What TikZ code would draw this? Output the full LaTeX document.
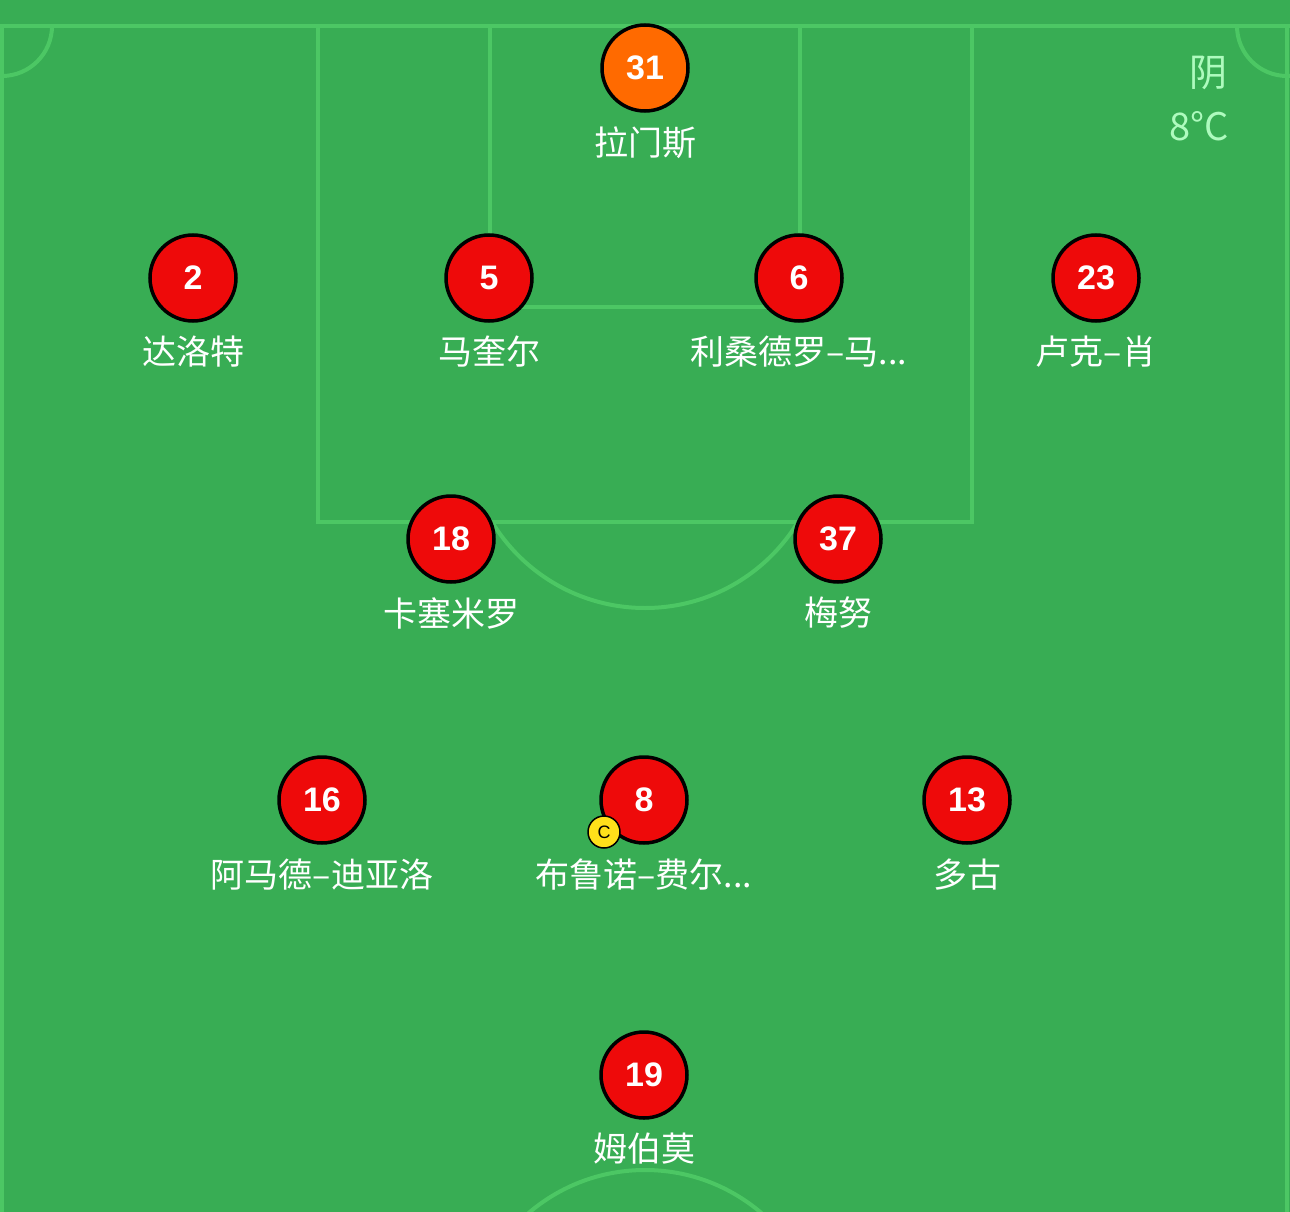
\documentclass[tikz,border=0pt]{standalone}
\usepackage{fontspec}
\newfontfamily\cjk{Noto Sans CJK SC}
\newfontfamily\numfont{Liberation Sans}
\definecolor{pitch}{HTML}{38AD54}
\definecolor{fline}{HTML}{4CC764}
\definecolor{wtext}{HTML}{AEFBBE}
\definecolor{pred}{HTML}{EE0A0A}
\definecolor{porange}{HTML}{FF6A00}
\definecolor{cyellow}{HTML}{FFE01A}
\tikzset{
  fieldline/.style={draw=fline, line width=4pt},
  player/.style={circle, draw=black, line width=3.5pt, fill=pred, minimum size=86pt, inner sep=0pt,
    text=white, font=\numfont\bfseries\fontsize{34}{36}\selectfont},
  keeper/.style={player, fill=porange},
  pname/.style={text=white, inner sep=0pt, font=\cjk\fontsize{34}{38}\selectfont},
  capt/.style={circle, draw=black, line width=1.5pt, fill=cyellow, minimum size=32pt, inner sep=0pt,
    font=\numfont\fontsize{18}{20}\selectfont},
  weather/.style={text=wtext, inner sep=0pt, anchor=east, font=\cjk\fontsize{38}{40}\selectfont}
}
\begin{document}
\begin{tikzpicture}[x=1pt,y=-1pt]
\useasboundingbox (0,0) rectangle (1290,1212);
\fill[pitch] (0,0) rectangle (1290,1212);
% field markings
\draw[fieldline] (0,26) -- (1290,26);
\draw[fieldline] (2,26) -- (2,1212);
\draw[fieldline] (1287,26) -- (1287,1212);
\draw[fieldline] (318,26) rectangle (972,522);
\draw[fieldline] (490,26) rectangle (800,307);
\begin{scope}
  \clip (0,26) rectangle (1290,1212);
  \draw[fieldline] (2,26) circle (50);
  \draw[fieldline] (1287,26) circle (50);
  \draw[fieldline] (645,1349) circle (179);
\end{scope}
\begin{scope}
  \clip (0,524) rectangle (1290,1212);
  \draw[fieldline] (645,429) circle (179);
\end{scope}
% weather
\node[weather] (w1) at (1228,73) {阴};
\node[weather] (w2) at (1229,126) {8°C};
% players
\node[keeper] (p31) at (645,68) {31};
\node[pname] (n31) at (645,143) {拉门斯};
\node[player] (p2) at (193,278) {2};
\node[pname] (n2) at (193,352) {达洛特};
\node[player] (p5) at (489,278) {5};
\node[pname] (n5) at (489,352) {马奎尔};
\node[player] (p6) at (799,278) {6};
\node[pname] (n6) at (799,352) {利桑德罗–马...};
\node[player] (p23) at (1096,278) {23};
\node[pname] (n23) at (1096,352) {卢克–肖};
\node[player] (p18) at (451,539) {18};
\node[pname] (n18) at (451,613) {卡塞米罗};
\node[player] (p37) at (838,539) {37};
\node[pname] (n37) at (838,613) {梅努};
\node[player] (p16) at (322,800) {16};
\node[pname] (n16) at (322,875) {阿马德–迪亚洛};
\node[player] (p8) at (644,800) {8};
\node[pname] (n8) at (644,875) {布鲁诺–费尔...};
\node[capt] (cap) at (604,832) {C};
\node[player] (p13) at (967,800) {13};
\node[pname] (n13) at (967,875) {多古};
\node[player] (p19) at (644,1075) {19};
\node[pname] (n19) at (644,1149) {姆伯莫};
\end{tikzpicture}
\end{document}
